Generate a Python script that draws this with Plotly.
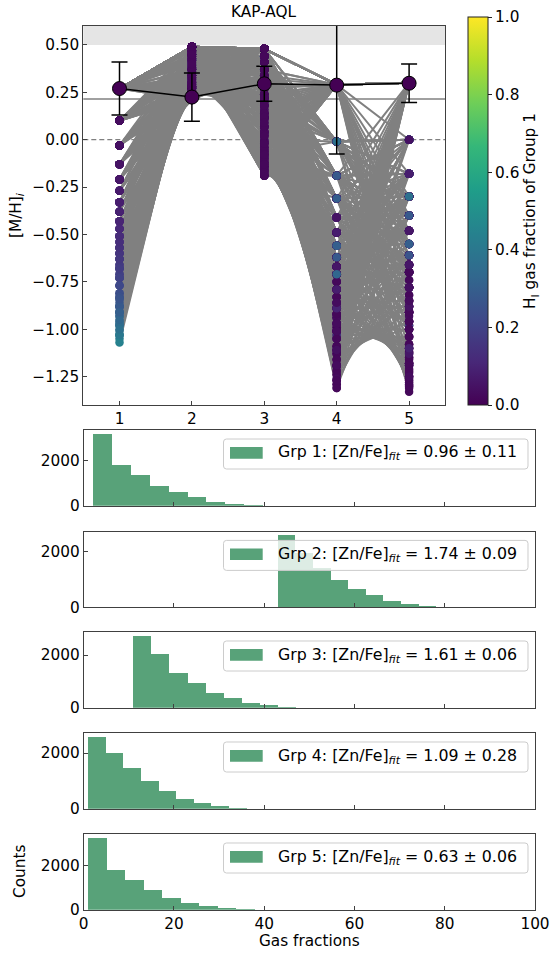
import plotly.graph_objects as go

W, H = 552, 955
FONT = "DejaVu Sans"
FS = 15.3

# ---------------- data ----------------
group_ids = [1, 2, 3, 4, 5]
group_labels = ["1", "2", "3", "4", "5"]

# [M/H]_i of each group for the plotted gas-fraction solutions
mh_grp1 = [
    -0.13, -0.21, -0.27, -0.33, -0.38, -0.43, -0.47, -0.51, -0.54, -0.57,
    -0.60, -0.63, -0.66, -0.68, -0.71, -0.73, -0.77, -0.81, -0.84, -0.88,
    -0.91, -0.93, -0.96, -0.98, -1.01, -1.03, -1.05, -1.07,
    0.27, 0.10, -0.03, -0.13, -0.21, -0.27, -0.33, -0.38, -0.43, -0.51,
    -0.57, -0.63, -0.68, -0.73, -0.81, -0.88, -0.93, -0.98, -1.03,
    0.27, 0.10, 0.27, 0.10, 0.27, 0.10, 0.27, 0.10, 0.27, 0.10,
    0.27, 0.10, 0.27, 0.10, 0.27, 0.10, 0.27, 0.10, 0.27, 0.10,
    0.27, 0.10, 0.27, 0.10, 0.27, 0.27,
    0.27, 0.27, 0.27, 0.27, 0.27, 0.27, 0.27, 0.27, 0.27, 0.27,
    0.27, 0.27, 0.27, 0.27, 0.27, 0.27, 0.27, 0.27, 0.27, 0.27,
    0.27, 0.27, 0.27, 0.27, 0.27, 0.27, 0.27, 0.27,
    0.27, 0.27, 0.27, 0.27, 0.27, 0.27, 0.27, 0.27, 0.27, 0.27,
    0.27, 0.27, 0.27, 0.27, 0.27, 0.27, 0.27, 0.27, 0.27, 0.27,
    0.27, 0.27, 0.27, 0.27, 0.27, 0.27, 0.27, 0.27, 0.27,
    0.27, 0.27, 0.27, 0.27, 0.27, 0.27, 0.27, 0.27, 0.27, 0.27,
    0.27, 0.27, 0.27, 0.27, 0.27, 0.27,
    -0.13, -0.33, 0.10, -0.03, -0.21, 0.27, -0.43, 0.10, 0.27, -0.03,
    -0.27, 0.27, -0.51, -0.13, -0.38, 0.10, -0.21, -0.03, -0.60, 0.27,
    -0.73, -0.33, -0.47, -0.83, -0.21, -0.57, 0.10, -0.68, -0.27, -0.43,
    0.27, -0.77, -0.03, -0.54, -0.13, -0.63, 0.10, -0.38, -0.21, -0.86,
    -0.03, -0.27, 0.10, -0.43, -0.13, 0.27, -0.51, -0.33, 0.10, -0.60,
    -0.03, -0.21, 0.27, -0.38, -0.13, -0.71, 0.10, -0.33, -0.47, 0.27,
    0.27, 0.27, 0.27, 0.27, 0.27, 0.10, 0.10, 0.27, 0.27, -0.03,
    0.27, 0.27, 0.10, 0.10, 0.27, 0.27, -0.13, 0.27, 0.27, -0.03,
    0.27, 0.27, 0.10, 0.27, 0.27, 0.10, 0.27, 0.27, 0.27, -0.21,
    0.27, 0.27, 0.10, 0.10, 0.27, 0.27, 0.27, -0.03, -0.03, 0.27,
    0.27, 0.10, 0.27, 0.27, 0.10, 0.27, 0.27, 0.27, 0.27, 0.10,
    0.10, 0.27, 0.27, 0.27, 0.27, 0.10, 0.10, 0.27, 0.27, 0.27,
    0.10, -0.03, -0.21, -0.33, -0.13, -0.43, 0.10, -0.51, -0.27, -0.03,
    -0.60, -0.38, 0.27, -0.73, -0.21, -0.47, 0.10, -0.83, -0.13, -0.57,
    0.27, -0.33, -0.91, -0.03, -0.66, 0.10, -0.27, -0.43, -0.77, -0.13,
    -0.54, 0.10, -0.97, -0.21, 0.27, -0.38, -0.03, -0.88, -0.63, 0.10,
    -0.68, -1.03, -0.51, 0.27, -0.03, 0.10, -0.13, 0.27, -0.33, -0.21,
    -1.00, -0.88, -0.91, -0.84, -0.95, -0.91,
]
mh_grp2 = [
    0.21, 0.21, 0.22, 0.23, 0.23, 0.24, 0.24, 0.25, 0.25, 0.26,
    0.27, 0.27, 0.28, 0.28, 0.29, 0.30, 0.31, 0.32, 0.34, 0.35,
    0.37, 0.38, 0.40, 0.42, 0.43, 0.45, 0.47, 0.49,
    0.49, 0.49, 0.49, 0.49, 0.49, 0.49, 0.49, 0.49, 0.49, 0.49,
    0.49, 0.49, 0.49, 0.49, 0.49, 0.49, 0.49, 0.49, 0.49,
    0.21, 0.22, 0.22, 0.23, 0.23, 0.24, 0.24, 0.25, 0.25, 0.27,
    0.27, 0.28, 0.28, 0.29, 0.29, 0.31, 0.32, 0.34, 0.34, 0.37,
    0.37, 0.40, 0.41, 0.43, 0.44, 0.47,
    0.49, 0.49, 0.49, 0.49, 0.49, 0.49, 0.49, 0.49, 0.49, 0.49,
    0.49, 0.49, 0.49, 0.49, 0.49, 0.49, 0.49, 0.49, 0.49, 0.49,
    0.49, 0.49, 0.49, 0.49, 0.49, 0.49, 0.49, 0.49,
    0.49, 0.49, 0.49, 0.49, 0.49, 0.49, 0.49, 0.49, 0.49, 0.49,
    0.49, 0.49, 0.49, 0.49, 0.49, 0.49, 0.49, 0.49, 0.49, 0.49,
    0.49, 0.49, 0.49, 0.49, 0.49, 0.49, 0.49, 0.49, 0.49,
    0.48, 0.49, 0.49, 0.49, 0.49, 0.49, 0.49, 0.49, 0.49, 0.49,
    0.49, 0.49, 0.49, 0.49, 0.49, 0.49,
    0.47, 0.45, 0.39, 0.42, 0.45, 0.32, 0.38, 0.36, 0.41, 0.42,
    0.46, 0.34, 0.39, 0.44, 0.43, 0.45, 0.44, 0.38, 0.43, 0.40,
    0.42, 0.37, 0.33, 0.45, 0.34, 0.34, 0.37, 0.43, 0.32, 0.35,
    0.30, 0.41, 0.35, 0.38, 0.38, 0.36, 0.39, 0.34, 0.41, 0.43,
    0.27, 0.30, 0.27, 0.28, 0.29, 0.27, 0.30, 0.37, 0.39, 0.32,
    0.42, 0.27, 0.27, 0.37, 0.41, 0.37, 0.42, 0.44, 0.42, 0.23,
    0.45, 0.45, 0.45, 0.45, 0.45, 0.38, 0.38, 0.37, 0.37, 0.37,
    0.33, 0.33, 0.46, 0.46, 0.47, 0.47, 0.34, 0.47, 0.47, 0.44,
    0.42, 0.47, 0.45, 0.44, 0.43, 0.47, 0.45, 0.47, 0.47, 0.46,
    0.24, 0.24, 0.25, 0.25, 0.28, 0.28, 0.26, 0.28, 0.28, 0.28,
    0.28, 0.25, 0.28, 0.28, 0.29, 0.30, 0.30, 0.25, 0.25, 0.29,
    0.29, 0.25, 0.25, 0.31, 0.31, 0.25, 0.25, 0.30, 0.30, 0.28,
    0.22, 0.24, 0.24, 0.29, 0.25, 0.27, 0.28, 0.31, 0.25, 0.32,
    0.32, 0.34, 0.26, 0.34, 0.37, 0.31, 0.25, 0.38, 0.34, 0.36,
    0.40, 0.33, 0.40, 0.33, 0.40, 0.37, 0.43, 0.34, 0.42, 0.32,
    0.42, 0.34, 0.45, 0.39, 0.45, 0.42, 0.42, 0.42, 0.47, 0.45,
    0.30, 0.48, 0.27, 0.21, 0.22, 0.22, 0.25, 0.24, 0.27, 0.25,
    0.47, 0.42, 0.45, 0.47, 0.48, 0.49,
]
mh_grp3 = [
    0.48, 0.48, 0.48, 0.48, 0.48, 0.48, 0.48, 0.48, 0.48, 0.48,
    0.48, 0.48, 0.48, 0.48, 0.48, 0.48, 0.48, 0.48, 0.48, 0.48,
    0.48, 0.48, 0.48, 0.48, 0.48, 0.48, 0.48, 0.48,
    0.12, 0.48, -0.19, 0.32, 0.03, 0.41, 0.20, -0.09, 0.24, 0.44,
    0.11, 0.34, 0.03, 0.37, 0.20, 0.41, 0.29, 0.48, 0.41,
    0.37, 0.34, 0.32, 0.29, 0.27, 0.24, 0.22, 0.20, 0.18, 0.16,
    0.14, 0.12, 0.11, 0.09, 0.07, 0.04, 0.02, -0.01, -0.04, -0.06,
    -0.08, -0.10, -0.12, -0.14, -0.16, -0.19,
    -0.19, -0.18, -0.17, -0.16, -0.15, -0.14, -0.13, -0.12, -0.11, -0.10,
    -0.09, -0.08, -0.07, -0.06, -0.05, -0.04, -0.02, -0.01, 0.02, 0.04,
    0.07, 0.11, 0.14, 0.18, 0.22, 0.27, 0.32, 0.37,
    0.48, 0.48, 0.48, 0.48, 0.48, 0.48, 0.48, 0.48, 0.48, 0.48,
    0.48, 0.48, 0.48, 0.48, 0.48, 0.48, 0.48, 0.48, 0.48, 0.48,
    0.48, 0.48, 0.48, 0.48, 0.48, 0.48, 0.48, 0.48, 0.48,
    -0.19, -0.19, -0.18, -0.17, -0.16, -0.15, -0.14, -0.12, -0.10, -0.07,
    -0.04, 0.02, 0.07, 0.14, 0.24, 0.37,
    0.22, 0.34, 0.41, 0.44, 0.37, 0.48, 0.44, 0.32, 0.44, 0.48,
    0.41, 0.27, 0.22, 0.12, 0.04, 0.34, -0.02, 0.27, 0.18, 0.07,
    0.34, 0.22, 0.29, 0.41, 0.14, 0.44, 0.24, 0.12, 0.32, 0.37,
    0.20, 0.37, 0.11, 0.48, 0.29, 0.24, 0.16, 0.41, 0.22, 0.44,
    0.37, 0.24, 0.29, 0.32, 0.18, 0.34, 0.41, 0.11, 0.00, 0.32,
    -0.06, 0.48, 0.41, 0.27, 0.06, 0.29, 0.44, 0.14, 0.20, 0.37,
    0.48, 0.48, 0.48, 0.48, 0.48, 0.44, 0.44, 0.41, 0.41, 0.48,
    0.44, 0.44, 0.48, 0.48, 0.48, 0.48, 0.37, 0.48, 0.48, 0.32,
    0.22, 0.12, 0.04, 0.18, -0.02, 0.27, -0.08, 0.37, 0.09, 0.44,
    0.44, 0.44, 0.48, 0.48, 0.41, 0.41, 0.48, 0.44, 0.44, 0.37,
    0.37, 0.44, 0.48, 0.48, 0.41, 0.44, 0.44, 0.48, 0.48, 0.48,
    0.48, 0.41, 0.41, 0.48, 0.48, 0.44, 0.44, 0.48, 0.48, 0.44,
    0.41, 0.34, 0.44, 0.27, 0.37, 0.44, 0.22, 0.32, 0.48, 0.12,
    0.41, 0.18, 0.29, 0.48, 0.04, 0.37, 0.44, 0.34, 0.24, 0.14,
    -0.02, 0.41, 0.44, 0.32, 0.22, 0.07, -0.08, 0.48, 0.27, 0.44,
    0.09, 0.37, 0.41, 0.18, -0.13, 0.48, 0.41, 0.48, 0.00, 0.18,
    0.44, 0.44, 0.48, 0.44, 0.48, 0.48, 0.48, 0.37, 0.48, 0.48,
    0.44, 0.41, 0.44, 0.37, 0.44, 0.41,
]
mh_grp4 = [
    0.29, 0.29, 0.29, 0.29, 0.29, 0.29, 0.29, 0.29, 0.29, 0.29,
    0.29, 0.29, 0.29, 0.29, 0.29, 0.29, 0.29, 0.29, 0.29, 0.29,
    0.29, 0.29, 0.29, 0.29, 0.29, 0.29, 0.29, 0.29,
    -0.89, -1.03, 0.29, -1.20, -0.31, -0.49, -1.13, -0.19, -0.67, -0.01,
    -0.75, -1.03, 0.29, -0.31, -0.01, -0.83, 0.29, -0.41, -0.01,
    0.29, 0.29, 0.29, 0.29, 0.29, 0.29, 0.29, 0.29, 0.29, 0.29,
    0.29, 0.29, 0.29, 0.29, 0.29, 0.29, 0.29, 0.29, 0.29, 0.29,
    0.29, 0.29, 0.29, 0.29, 0.29, 0.29,
    -0.19, -0.31, -0.41, -0.49, -0.56, -0.62, -0.67, -0.71, -0.75, -0.79,
    -0.83, -0.86, -0.89, -0.92, -0.94, -0.97, -0.99, -1.01, -1.05, -1.09,
    -1.13, -1.16, -1.19, -1.22, -1.24, -1.27, -1.29, -1.31,
    -0.01, -0.19, -0.31, -0.41, -0.49, -0.56, -0.62, -0.67, -0.71, -0.75,
    -0.79, -0.83, -0.86, -0.89, -0.92, -0.94, -0.97, -0.99, -1.01, -1.05,
    -1.09, -1.13, -1.16, -1.19, -1.22, -1.24, -1.27, -1.29, -1.31,
    0.29, 0.29, 0.29, 0.29, 0.29, 0.29, 0.29, 0.29, 0.29, 0.29,
    0.29, 0.29, 0.29, 0.29, 0.29, 0.29,
    -0.71, -0.89, -1.01, -0.62, -1.11, -0.79, -0.97, -0.41, -1.19, -0.31,
    -1.05, -0.71, -0.62, -0.89, -0.62, -1.11, -0.41, -1.01, -0.49, -0.79,
    -0.71, -0.19, -0.56, -0.41, -0.01, -0.31, -0.56, -0.19, -0.75, -0.49,
    -0.31, -0.67, -0.67, -0.86, -0.19, -0.41, -0.92, -0.01, -0.83, -0.49,
    -0.49, -0.31, -0.01, -0.19, -0.01, -0.67, -0.31, -0.41, -0.56, -0.19,
    -0.19, -0.71, -0.41, -0.79, -0.31, -0.01, -0.94, -0.56, -0.71, -0.19,
    -0.71, -0.89, -1.01, -1.11, -1.19, -0.79, -0.97, -0.49, -1.05, -0.86,
    -0.62, -0.92, -1.26, -0.41, -1.16, -0.86, -0.71, -1.09, -0.97, -0.92,
    -1.01, -1.11, -0.97, -0.79, -0.71, -1.19, -0.62, -1.27, -0.49, -0.67,
    -0.19, -0.49, -0.31, -0.62, -0.41, -0.71, -0.56, -0.19, -0.79, -0.67,
    -0.49, -0.41, -0.31, -0.83, -0.62, -0.75, -0.67, -0.19, -0.67, -0.49,
    -0.79, -0.56, -0.31, -0.71, -0.79, -0.01, -0.67, -0.41, -0.92, -0.56,
    -0.01, -0.01, -0.19, -0.01, -0.31, -0.19, -0.01, -0.41, -0.19, -0.31,
    -0.01, -0.49, -0.19, -0.31, -0.41, -0.01, -0.62, -0.19, -0.71, -0.01,
    -0.49, -0.79, -0.01, -0.49, -0.56, -0.19, -0.01, -0.89, -0.31, -0.31,
    -0.19, -1.01, -0.19, -0.67, -0.19, -0.41, -1.11, -0.62, -0.01, -0.86,
    -0.01, -0.01, -0.01, -0.01, -0.19, -0.01, -0.41, -0.31, -0.49, -0.01,
    -0.01, -0.19, -0.31, -0.56, -0.71, -0.56,
]
mh_grp5 = [
    0.30, 0.30, 0.30, 0.30, 0.30, 0.30, 0.30, 0.30, 0.30, 0.30,
    0.30, 0.30, 0.30, 0.30, 0.30, 0.30, 0.30, 0.30, 0.30, 0.30,
    0.30, 0.30, 0.30, 0.30, 0.30, 0.30, 0.30, 0.30,
    -0.88, -1.04, 0.30, -0.40, -0.91, -1.19, 0.00, -0.30, -0.98, -1.19,
    -0.48, -0.40, -0.55, -0.98, -0.70, -0.18, -0.55, -0.40, 0.00,
    0.30, 0.30, 0.30, 0.30, 0.30, 0.30, 0.30, 0.30, 0.30, 0.30,
    0.30, 0.30, 0.30, 0.30, 0.30, 0.30, 0.30, 0.30, 0.30, 0.30,
    0.30, 0.30, 0.30, 0.30, 0.30, 0.30,
    0.30, 0.30, 0.30, 0.30, 0.30, 0.30, 0.30, 0.30, 0.30, 0.30,
    0.30, 0.30, 0.30, 0.30, 0.30, 0.30, 0.30, 0.30, 0.30, 0.30,
    0.30, 0.30, 0.30, 0.30, 0.30, 0.30, 0.30, 0.30,
    -1.33, -1.31, -1.30, -1.29, -1.28, -1.27, -1.26, -1.25, -1.23, -1.22,
    -1.21, -1.19, -1.18, -1.16, -1.15, -1.13, -1.12, -1.10, -1.08, -1.04,
    -1.00, -0.96, -0.91, -0.85, -0.78, -0.70, -0.61, -0.48, -0.30,
    0.00, -0.18, -0.30, -0.40, -0.48, -0.55, -0.61, -0.70, -0.78, -0.88,
    -0.96, -1.04, -1.12, -1.18, -1.25, -1.30,
    -1.00, -0.88, -0.70, -1.10, -0.61, -0.78, -0.40, -0.96, -0.30, -1.18,
    -0.78, -0.70, -0.48, -0.55, -0.30, -0.70, -0.48, -0.18, -0.61, -0.40,
    -0.30, -0.78, -0.18, -0.70, -0.61, -0.66, -0.85, -0.40, 0.00, -0.74,
    -0.48, -0.18, 0.00, -0.55, -1.00, 0.00, -0.30, -0.91, -0.66, -0.48,
    -0.30, -0.18, -0.55, 0.00, -0.18, 0.00, -0.30, -0.40, -0.18, -0.18,
    -0.40, 0.00, -0.66, -0.30, -0.70, -0.40, -0.93, -0.82, -0.61, -0.18,
    -1.18, -1.10, -1.00, -0.88, -0.70, -0.96, -0.78, -1.04, -0.48, -0.85,
    -0.91, -0.61, -0.40, -1.25, -0.85, -1.15, -0.70, -0.96, -1.08, -0.91,
    -0.61, -0.18, 0.00, -0.91, -0.30, -0.30, -0.18, -0.18, -1.00, -1.13,
    -0.48, -0.18, -0.61, -0.30, -0.70, -0.40, -0.55, -0.78, -0.18, -0.48,
    -0.66, -0.40, -0.82, -0.30, -0.61, -0.66, -0.74, -0.66, -0.18, -0.78,
    -0.48, -0.30, -0.55, -0.78, -0.70, -0.66, 0.00, -0.91, -0.40, -0.70,
    0.00, -0.18, 0.00, -0.30, 0.00, -0.18, -0.40, 0.00, -0.30, -0.18,
    -0.48, 0.00, -0.40, -0.30, -0.18, -0.61, -0.18, 0.00, -0.48, 0.00,
    -0.30, -0.40, -0.18, -0.78, -0.18, -0.66, 0.00, -0.30, -0.40, -0.88,
    -0.55, 0.00, 0.00, -0.66, -0.18, -1.10, -0.61, -0.18, -0.30, -0.85,
    0.00, 0.00, -0.18, 0.00, 0.00, -0.30, -0.40, -0.30, -0.18, -0.48,
    -0.30, -0.40, -0.55, -0.61, 0.30, -0.55,
]
# HI gas fraction of group 1 for each solution (colour)
hi_frac_grp1 = [
    0.05, 0.06, 0.07, 0.08, 0.09, 0.10, 0.11, 0.12, 0.13, 0.14,
    0.15, 0.16, 0.17, 0.18, 0.19, 0.20, 0.22, 0.24, 0.26, 0.28,
    0.30, 0.32, 0.34, 0.36, 0.38, 0.40, 0.42, 0.44,
    0.02, 0.03, 0.04, 0.05, 0.06, 0.07, 0.08, 0.09, 0.10, 0.12,
    0.14, 0.16, 0.18, 0.20, 0.24, 0.28, 0.32, 0.36, 0.40,
    0.02, 0.03, 0.02, 0.03, 0.02, 0.03, 0.02, 0.03, 0.02, 0.03,
    0.02, 0.03, 0.02, 0.03, 0.02, 0.03, 0.02, 0.03, 0.02, 0.03,
    0.02, 0.03, 0.02, 0.03, 0.02, 0.02,
    0.02, 0.02, 0.02, 0.02, 0.02, 0.02, 0.02, 0.02, 0.02, 0.02,
    0.02, 0.02, 0.02, 0.02, 0.02, 0.02, 0.02, 0.02, 0.02, 0.02,
    0.02, 0.02, 0.02, 0.02, 0.02, 0.02, 0.02, 0.02,
    0.02, 0.02, 0.02, 0.02, 0.02, 0.02, 0.02, 0.02, 0.02, 0.02,
    0.02, 0.02, 0.02, 0.02, 0.02, 0.02, 0.02, 0.02, 0.02, 0.02,
    0.02, 0.02, 0.02, 0.02, 0.02, 0.02, 0.02, 0.02, 0.02,
    0.02, 0.02, 0.02, 0.02, 0.02, 0.02, 0.02, 0.02, 0.02, 0.02,
    0.02, 0.02, 0.02, 0.02, 0.02, 0.02,
    0.05, 0.08, 0.03, 0.04, 0.06, 0.02, 0.10, 0.03, 0.02, 0.04,
    0.07, 0.02, 0.12, 0.05, 0.09, 0.03, 0.06, 0.04, 0.15, 0.02,
    0.20, 0.08, 0.11, 0.25, 0.06, 0.14, 0.03, 0.18, 0.07, 0.10,
    0.02, 0.22, 0.04, 0.13, 0.05, 0.16, 0.03, 0.09, 0.06, 0.27,
    0.04, 0.07, 0.03, 0.10, 0.05, 0.02, 0.12, 0.08, 0.03, 0.15,
    0.04, 0.06, 0.02, 0.09, 0.05, 0.19, 0.03, 0.08, 0.11, 0.02,
    0.02, 0.02, 0.02, 0.02, 0.02, 0.03, 0.03, 0.02, 0.02, 0.04,
    0.02, 0.02, 0.03, 0.03, 0.02, 0.02, 0.05, 0.02, 0.02, 0.04,
    0.02, 0.02, 0.03, 0.02, 0.02, 0.03, 0.02, 0.02, 0.02, 0.06,
    0.02, 0.02, 0.03, 0.03, 0.02, 0.02, 0.02, 0.04, 0.04, 0.02,
    0.02, 0.03, 0.02, 0.02, 0.03, 0.02, 0.02, 0.02, 0.02, 0.03,
    0.03, 0.02, 0.02, 0.02, 0.02, 0.03, 0.03, 0.02, 0.02, 0.02,
    0.03, 0.04, 0.06, 0.08, 0.05, 0.10, 0.03, 0.12, 0.07, 0.04,
    0.15, 0.09, 0.02, 0.20, 0.06, 0.11, 0.03, 0.25, 0.05, 0.14,
    0.02, 0.08, 0.30, 0.04, 0.17, 0.03, 0.07, 0.10, 0.22, 0.05,
    0.13, 0.03, 0.35, 0.06, 0.02, 0.09, 0.04, 0.28, 0.16, 0.03,
    0.18, 0.40, 0.12, 0.02, 0.04, 0.03, 0.05, 0.02, 0.08, 0.06,
    0.37, 0.28, 0.30, 0.26, 0.33, 0.30,
]

# observed / fitted group [M/H] with errors
mh_mean = [0.27, 0.225, 0.295, 0.288, 0.298]
mh_err = [0.14, 0.127, 0.092, 0.364, 0.102]
mh_total = 0.215
mh_solar = 0.0
mh_limit = 0.5

# gas-fraction histograms (bin edges in %, counts)
bins_grp1 = [2.0, 6.2, 10.4, 14.6, 18.8, 23.0, 27.2, 31.4, 35.6, 39.8, 44.0]
counts_grp1 = [3180, 1820, 1380, 880, 590, 370, 150, 60, 15, 4]
bins_grp2 = [43.0, 46.9, 50.8, 54.7, 58.6, 62.5, 66.4, 70.3, 74.2, 78.1, 82.0]
counts_grp2 = [2580, 1950, 1410, 990, 660, 430, 230, 120, 48, 12]
bins_grp3 = [11.0, 15.0, 19.0, 23.0, 27.0, 31.0, 35.0, 39.0, 43.0, 47.0, 51.0]
counts_grp3 = [2730, 2040, 1310, 940, 580, 360, 190, 100, 38, 8]
bins_grp4 = [1.0, 4.9, 8.8, 12.7, 16.6, 20.5, 24.4, 28.3, 32.2, 36.1, 40.0]
counts_grp4 = [2580, 1990, 1460, 1010, 650, 360, 190, 85, 36, 8]
bins_grp5 = [1.0, 5.1, 9.2, 13.3, 17.4, 21.5, 25.6, 29.7, 33.8, 37.9, 42.0]
counts_grp5 = [3240, 1790, 1350, 910, 545, 305, 150, 60, 30, 8]

zn_fe_fit = [0.96, 1.74, 1.61, 1.09, 0.63]
zn_fe_err = [0.11, 0.09, 0.06, 0.28, 0.06]

n = len(mh_grp1)
for arr in (mh_grp2, mh_grp3, mh_grp4, mh_grp5, hi_frac_grp1):
    assert len(arr) == n, (len(arr), n)

# ---------------- helpers ----------------
def pxx(p):
    return p / W


def pxy(p):
    return 1 - p / H


GREEN = "rgba(46,139,87,0.8)"
FRAME = "#404040"

fig = go.Figure()

# grey solution lines
lx, ly = [], []
cols = [mh_grp1, mh_grp2, mh_grp3, mh_grp4, mh_grp5]
for i in range(n):
    lx += group_ids + [None]
    ly += [c[i] for c in cols] + [None]
fig.add_trace(go.Scatter(x=lx, y=ly, mode="lines",
                         line=dict(color="#808080", width=2.0),
                         hoverinfo="skip", showlegend=False,
                         xaxis="x", yaxis="y"))

# coloured points (groups 2 and 3 drawn with low fractions on top)
order_default = list(range(n))
order_purple_top = sorted(range(n), key=lambda i: -hi_frac_grp1[i])
sx, sy, sc = [], [], []
for g, c in zip(group_ids, cols):
    order = order_purple_top if g in (2, 3) else order_default
    sx += [g] * n
    sy += [c[i] for i in order]
    sc += [hi_frac_grp1[i] for i in order]
fig.add_trace(go.Scatter(
    x=sx, y=sy, mode="markers", showlegend=False, xaxis="x", yaxis="y",
    hoverinfo="skip",
    marker=dict(size=8.5, color=sc, colorscale="Viridis", cmin=0, cmax=1,
                line=dict(width=0),
                colorbar=dict(
                    x=pxx(468), xanchor="left", xpad=0, xref="paper",
                    y=pxy(17), yanchor="top", ypad=0, yref="paper",
                    len=(405 - 17) / H, lenmode="fraction",
                    thickness=20, thicknessmode="pixels",
                    outlinecolor="#222222", outlinewidth=1,
                    tickvals=[0, 0.2, 0.4, 0.6, 0.8, 1.0], tickformat=".1f",
                    ticks="outside", ticklen=4, tickcolor="#222222",
                    tickfont=dict(family=FONT, size=FS, color="black"),
                    title=dict(text="H<sub>I</sub> gas fraction of Group 1",
                               side="right",
                               font=dict(family=FONT, size=FS, color="black")),
                ))))

# group means with error bars
fig.add_trace(go.Scatter(
    x=group_ids, y=mh_mean, mode="lines+markers", showlegend=False,
    xaxis="x", yaxis="y",
    line=dict(color="black", width=1.5),
    marker=dict(size=14, color="#440154", line=dict(color="black", width=1)),
    error_y=dict(type="data", array=mh_err, color="black", thickness=1.5, width=8),
))

# histograms
hist_bins = [bins_grp1, bins_grp2, bins_grp3, bins_grp4, bins_grp5]
hist_counts = [counts_grp1, counts_grp2, counts_grp3, counts_grp4, counts_grp5]
hist_tops = [430.3, 531.7, 632.3, 733.3, 834.3]
hist_h = 75.5

for k in range(5):
    edges = hist_bins[k]
    cnts = hist_counts[k]
    widths = [edges[i + 1] - edges[i] for i in range(len(cnts))]
    fig.add_trace(go.Bar(x=edges[:-1], y=cnts, width=widths, offset=0,
                         marker=dict(color=GREEN, line=dict(width=0)),
                         showlegend=False, hoverinfo="skip",
                         xaxis=f"x{k + 2}", yaxis=f"y{k + 2}"))

axis_common = dict(showgrid=False, zeroline=False, showline=True,
                   linecolor=FRAME, linewidth=1, mirror=True,
                   ticks="inside", ticklen=4, tickcolor=FRAME,
                   automargin=False,
                   tickfont=dict(family=FONT, size=FS, color="black"))

layout = dict(
    width=W, height=H, margin=dict(l=0, r=0, t=0, b=0, autoexpand=False),
    paper_bgcolor="white", plot_bgcolor="white",
    font=dict(family=FONT, size=FS, color="black"),
    showlegend=False,
    bargap=0,
    xaxis=dict(domain=[pxx(83.3), pxx(445.3)], range=[0.5, 5.5],
               tickvals=group_ids, ticktext=group_labels, anchor="y",
               **axis_common),
    yaxis=dict(domain=[pxy(405), pxy(26)], range=[-1.4, 0.6],
               tickvals=[-1.25, -1.0, -0.75, -0.5, -0.25, 0.0, 0.25, 0.5],
               tickformat=".2f", anchor="x", **axis_common),
)
for k in range(5):
    top = hist_tops[k]
    layout[f"xaxis{k + 2}"] = dict(domain=[pxx(83.7), pxx(535)], range=[0, 100],
                                   tickvals=[0, 20, 40, 60, 80, 100],
                                   showticklabels=(k == 4),
                                   anchor=f"y{k + 2}", **axis_common)
    layout[f"yaxis{k + 2}"] = dict(domain=[pxy(top + hist_h), pxy(top)],
                                   range=[0, 1.05 * max(hist_counts[k])],
                                   tickvals=[0, 2000],
                                   anchor=f"x{k + 2}", **axis_common)

shapes = [
    dict(type="rect", xref="x domain", yref="y", x0=0, x1=1, y0=mh_limit, y1=0.6,
         fillcolor="#e5e5e5", line=dict(width=0), layer="below"),
    dict(type="line", xref="x domain", yref="y", x0=0, x1=1, y0=mh_total, y1=mh_total,
         line=dict(color="#808080", width=1.5), layer="below"),
    dict(type="line", xref="x domain", yref="y", x0=0, x1=1, y0=mh_solar, y1=mh_solar,
         line=dict(color="#808080", width=1.2, dash="5px,3px"), layer="below"),
]


def rounded_rect(x0, y0, x1, y1, r):
    pts = [
        ("M", [(x0 + r, y0)]), ("L", [(x1 - r, y0)]), ("Q", [(x1, y0), (x1, y0 + r)]),
        ("L", [(x1, y1 - r)]), ("Q", [(x1, y1), (x1 - r, y1)]), ("L", [(x0 + r, y1)]),
        ("Q", [(x0, y1), (x0, y1 - r)]), ("L", [(x0, y0 + r)]), ("Q", [(x0, y0), (x0 + r, y0)]),
    ]
    s = ""
    for cmd, ps in pts:
        s += cmd + " " + " ".join(f"{pxx(a):.5f},{pxy(b):.5f}" for a, b in ps) + " "
    return s + "Z"


tfont = dict(family=FONT, size=FS, color="black")
lfont = dict(family=FONT, size=15.8, color="black")
annotations = [
    dict(text="KAP-AQL", x=pxx((83.3 + 445.3) / 2), y=pxy(12), xref="paper", yref="paper",
         showarrow=False, xanchor="center", yanchor="middle", font=tfont),
    dict(text="[M/H]<sub><i>i</i></sub>", x=pxx(17), y=pxy(216), xref="paper", yref="paper",
         showarrow=False, textangle=-90, xanchor="center", yanchor="middle", font=tfont),
    dict(text="Counts", x=pxx(20), y=pxy(872), xref="paper", yref="paper",
         showarrow=False, textangle=-90, xanchor="center", yanchor="middle", font=tfont),
    dict(text="Gas fractions", x=pxx(309), y=pxy(941), xref="paper", yref="paper",
         showarrow=False, xanchor="center", yanchor="middle", font=tfont),
]

for k in range(5):
    top = hist_tops[k]
    shapes.append(dict(type="path", xref="paper", yref="paper",
                       path=rounded_rect(223.5, top + 8.7, 528, top + 38.7, 3),
                       fillcolor="rgba(255,255,255,0.8)",
                       line=dict(color="#cccccc", width=1), layer="above"))
    shapes.append(dict(type="rect", xref="paper", yref="paper",
                       x0=pxx(230), x1=pxx(262.7), y0=pxy(top + 28.4), y1=pxy(top + 16.7),
                       fillcolor=GREEN, line=dict(width=0), layer="above"))
    annotations.append(dict(
        text=f"Grp {group_ids[k]}: [Zn/Fe]<sub><i>fit</i></sub> = {zn_fe_fit[k]:.2f} ± {zn_fe_err[k]:.2f}",
        x=pxx(276), y=pxy(top + 22.7), xref="paper", yref="paper",
        showarrow=False, xanchor="left", yanchor="middle", font=lfont))

layout["shapes"] = shapes
layout["annotations"] = annotations
fig.update_layout(**layout)

fig.write_html("out.html",
               config={"displayModeBar": False, "staticPlot": True},
               post_script="document.body.style.margin='0px';"
                           "document.body.style.overflow='hidden';")
